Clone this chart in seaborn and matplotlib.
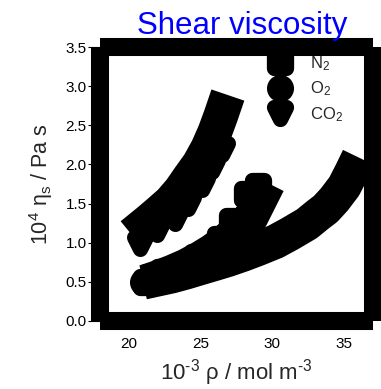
import matplotlib
matplotlib.use("Agg")
import matplotlib.pyplot as plt
from matplotlib.markers import MarkerStyle
from matplotlib.lines import Line2D
import seaborn as sns

# ---- data ----
gases = ["N$_2$", "O$_2$", "CO$_2$"]

# correlation curves (10^-3 rho / mol m^-3, 10^4 eta / Pa s)
n2_rho_line = [21.2, 22.0, 23.0, 24.0, 25.0, 25.8, 26.4, 27.0, 27.5, 28.0, 28.5, 29.1, 29.7]
n2_eta_line = [0.50, 0.55, 0.62, 0.70, 0.80, 0.89, 0.97, 1.06, 1.15, 1.23, 1.32, 1.54, 1.76]
o2_rho_line = [21.0, 22.0, 23.0, 24.0, 24.9, 26.0, 26.9, 28.0, 29.0, 30.2, 30.6, 31.2,
               32.4, 33.2, 33.7, 34.3, 35.0, 35.5, 36.0]
o2_eta_line = [0.49, 0.53, 0.57, 0.62, 0.67, 0.73, 0.78, 0.85, 0.92, 1.01, 1.05, 1.11,
               1.24, 1.36, 1.43, 1.55, 1.72, 1.90, 2.09]
co2_rho_line = [20.2, 20.8, 21.4, 22.1, 22.9, 23.6, 24.2, 24.9, 25.5, 26.0, 26.4, 26.9]
co2_eta_line = [1.10, 1.19, 1.28, 1.39, 1.52, 1.67, 1.83, 2.01, 2.21, 2.42, 2.62, 2.89]

# simulation points
n2_rho_sim = [21.2, 22.4, 24.75, 26.35, 27.2, 28.2, 29.0]
n2_eta_sim = [0.50, 0.62, 0.81, 1.04, 1.27, 1.62, 1.72]
o2_rho_sim = [21.0, 22.5, 24.0, 25.5, 27.0, 28.5]
o2_eta_sim = [0.50, 0.58, 0.66, 0.76, 0.90, 1.08]
co2_rho_sim = [20.8, 22.0, 23.2, 24.1, 25.1, 25.8, 26.5]
co2_eta_sim = [0.99, 1.17, 1.32, 1.51, 1.75, 1.98, 2.20]

x_ticks = [20, 25, 30, 35]
y_ticks = [0.0, 0.5, 1.0, 1.5, 2.0, 2.5, 3.0, 3.5]

sns.set_theme(style="ticks")
plt.rcParams["font.family"] = ["Liberation Sans", "DejaVu Sans"]
plt.rcParams["mathtext.fontset"] = "custom"
plt.rcParams["mathtext.rm"] = "Liberation Sans"
plt.rcParams["mathtext.it"] = "Liberation Sans"

fig = plt.figure(figsize=(3.81, 3.89), dpi=100)
ax = fig.add_axes([0.2625, 0.176, 0.7165, 0.702])

LW = 25
mk = {"N$_2$": "s", "O$_2$": "o", "CO$_2$": "v"}
lines = [(n2_rho_line, n2_eta_line), (o2_rho_line, o2_eta_line), (co2_rho_line, co2_eta_line)]
sims = [(n2_rho_sim, n2_eta_sim), (o2_rho_sim, o2_eta_sim), (co2_rho_sim, co2_eta_sim)]

for (xl, yl) in lines:
    sns.lineplot(x=xl, y=yl, ax=ax, sort=False, estimator=None, color="black",
                 linewidth=LW, solid_capstyle="butt", solid_joinstyle="round")

for g, (xs, ys) in zip(gases, sims):
    sns.scatterplot(x=xs, y=ys, ax=ax, marker=MarkerStyle(mk[g], joinstyle="round"),
                    s=72, color="black", edgecolor="black", linewidth=11)
for c in ax.collections:
    c.set_joinstyle("round")

ax.set_xlim(18, 37)
ax.set_ylim(0, 3.5)
ax.set_xticks(x_ticks)
ax.set_yticks(y_ticks)
ax.set_yticklabels([f"{v:.1f}" for v in y_ticks])
ax.tick_params(axis="y", length=8.5, width=0.8, pad=1, labelsize=11, colors="black")
ax.tick_params(axis="x", length=6, width=0.8, pad=6, labelsize=11, colors="black")
for s in ax.spines.values():
    s.set_linewidth(13)
    s.set_color("black")
    s.set_capstyle("butt")

ax.set_xlabel(r"10$^{\text{-3}}$ ρ / mol m$^{\text{-3}}$", fontsize=16, labelpad=4)
ax.set_ylabel(r"10$^{4}$ η$_{s}$ / Pa s", fontsize=15.5, labelpad=8)
ax.set_title("Shear viscosity", color="blue", fontsize=22.5, pad=10, x=0.52)

handles = [Line2D([], [], linestyle="none", color="black",
                  marker=MarkerStyle(mk[g], joinstyle="round"), markersize=8.5,
                  markeredgewidth=11) for g in gases]
ax.legend(handles, gases, loc="upper left", bbox_to_anchor=(0.628, 0.975),
          frameon=False, fontsize=12, borderpad=0, borderaxespad=0,
          handlelength=1.0, handletextpad=1.3, labelspacing=0.4)

fig.savefig("out.png", dpi=100)
